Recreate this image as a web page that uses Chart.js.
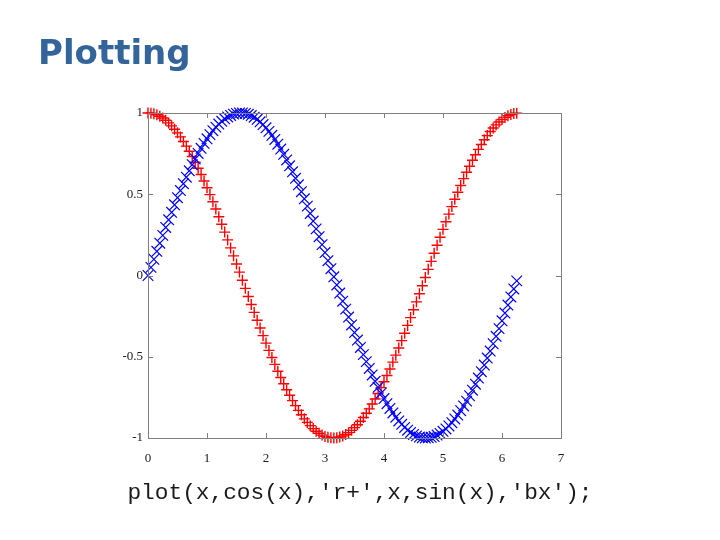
<!DOCTYPE html>
<html>
<head>
<meta charset="utf-8">
<script src="https://cdn.jsdelivr.net/npm/chart.js@4"></script>
<style>
  html, body { margin: 0; padding: 0; background: #fff; }
  #wrap { position: relative; width: 720px; height: 540px; overflow: hidden; }
  #title {
    position: absolute; left: 38px; top: 32px; margin: 0;
    font: bold 34px "DejaVu Sans", sans-serif; color: #34659a;
  }
  #caption {
    position: absolute; left: 0; width: 720px; top: 480px; margin: 0;
    text-align: center; font: 22.8px "Liberation Mono", monospace; color: #1a1a1a;
  }
  canvas { position: absolute; left: 0; top: 0; }
</style>
</head>
<body>
<div id="wrap">
  <canvas id="plot" width="720" height="540"></canvas>
  <h1 id="title">Plotting</h1>
  <p id="caption">plot(x,cos(x),'r+',x,sin(x),'bx');</p>
</div>
<script>
// x = 0:0.05:6.25
const xVals = [
  0.00, 0.05, 0.10, 0.15, 0.20, 0.25, 0.30, 0.35, 0.40, 0.45,
  0.50, 0.55, 0.60, 0.65, 0.70, 0.75, 0.80, 0.85, 0.90, 0.95,
  1.00, 1.05, 1.10, 1.15, 1.20, 1.25, 1.30, 1.35, 1.40, 1.45,
  1.50, 1.55, 1.60, 1.65, 1.70, 1.75, 1.80, 1.85, 1.90, 1.95,
  2.00, 2.05, 2.10, 2.15, 2.20, 2.25, 2.30, 2.35, 2.40, 2.45,
  2.50, 2.55, 2.60, 2.65, 2.70, 2.75, 2.80, 2.85, 2.90, 2.95,
  3.00, 3.05, 3.10, 3.15, 3.20, 3.25, 3.30, 3.35, 3.40, 3.45,
  3.50, 3.55, 3.60, 3.65, 3.70, 3.75, 3.80, 3.85, 3.90, 3.95,
  4.00, 4.05, 4.10, 4.15, 4.20, 4.25, 4.30, 4.35, 4.40, 4.45,
  4.50, 4.55, 4.60, 4.65, 4.70, 4.75, 4.80, 4.85, 4.90, 4.95,
  5.00, 5.05, 5.10, 5.15, 5.20, 5.25, 5.30, 5.35, 5.40, 5.45,
  5.50, 5.55, 5.60, 5.65, 5.70, 5.75, 5.80, 5.85, 5.90, 5.95,
  6.00, 6.05, 6.10, 6.15, 6.20, 6.25
];

// red '+' markers
const cosVals = [
  1.000, 0.999, 0.995, 0.989, 0.980, 0.969, 0.955, 0.939, 0.921, 0.900,
  0.878, 0.853, 0.825, 0.796, 0.765, 0.732, 0.697, 0.660, 0.622, 0.582,
  0.540, 0.498, 0.454, 0.409, 0.362, 0.315, 0.267, 0.219, 0.170, 0.121,
  0.071, 0.021, -0.029, -0.079, -0.129, -0.178, -0.227, -0.275, -0.323, -0.370,
  -0.416, -0.461, -0.505, -0.547, -0.589, -0.628, -0.666, -0.703, -0.737, -0.770,
  -0.801, -0.830, -0.857, -0.882, -0.904, -0.924, -0.942, -0.958, -0.971, -0.982,
  -0.990, -0.996, -0.999, -1.000, -0.998, -0.994, -0.987, -0.978, -0.967, -0.953,
  -0.936, -0.918, -0.897, -0.874, -0.848, -0.821, -0.791, -0.760, -0.726, -0.690,
  -0.654, -0.615, -0.575, -0.533, -0.490, -0.446, -0.401, -0.355, -0.307, -0.259,
  -0.211, -0.162, -0.112, -0.063, -0.012, 0.038, 0.087, 0.137, 0.186, 0.235,
  0.284, 0.331, 0.378, 0.424, 0.469, 0.512, 0.554, 0.596, 0.635, 0.672,
  0.709, 0.743, 0.776, 0.806, 0.835, 0.861, 0.886, 0.908, 0.927, 0.945,
  0.960, 0.973, 0.983, 0.991, 0.997, 0.999
];

// blue 'x' markers
const sinVals = [
  0.000, 0.050, 0.100, 0.149, 0.199, 0.247, 0.296, 0.343, 0.389, 0.435,
  0.479, 0.523, 0.565, 0.605, 0.644, 0.682, 0.717, 0.751, 0.783, 0.813,
  0.841, 0.867, 0.891, 0.913, 0.932, 0.949, 0.964, 0.976, 0.985, 0.993,
  0.997, 1.000, 1.000, 0.997, 0.992, 0.984, 0.974, 0.961, 0.946, 0.929,
  0.909, 0.887, 0.863, 0.837, 0.808, 0.778, 0.746, 0.711, 0.675, 0.638,
  0.598, 0.558, 0.516, 0.472, 0.427, 0.382, 0.335, 0.287, 0.239, 0.190,
  0.141, 0.091, 0.042, -0.008, -0.058, -0.108, -0.158, -0.207, -0.256, -0.304,
  -0.351, -0.397, -0.443, -0.487, -0.530, -0.572, -0.612, -0.651, -0.688, -0.724,
  -0.757, -0.789, -0.818, -0.846, -0.872, -0.895, -0.916, -0.935, -0.952, -0.966,
  -0.978, -0.987, -0.994, -0.998, -1.000, -0.999, -0.996, -0.991, -0.982, -0.972,
  -0.959, -0.944, -0.926, -0.906, -0.883, -0.859, -0.832, -0.803, -0.773, -0.740,
  -0.706, -0.669, -0.631, -0.592, -0.551, -0.508, -0.465, -0.420, -0.374, -0.327,
  -0.279, -0.231, -0.182, -0.132, -0.083, -0.033
];

const xTicks = [0, 1, 2, 3, 4, 5, 6, 7];
const yTicks = [-1, -0.5, 0, 0.5, 1];

const cosPts = xVals.map((x, i) => ({ x: x, y: cosVals[i] }));
const sinPts = xVals.map((x, i) => ({ x: x, y: sinVals[i] }));

// axes box + inward tick marks, matlab style
const boxPlugin = {
  id: 'box',
  afterDatasetsDraw(chart) {
    const { ctx, chartArea: a, scales } = chart;
    ctx.save();
    ctx.strokeStyle = '#808080';
    ctx.lineWidth = 1;
    ctx.strokeRect(Math.round(a.left) + 0.5, Math.round(a.top) + 0.5,
                   Math.round(a.right - a.left), Math.round(a.bottom - a.top));
    const len = 5;
    ctx.beginPath();
    xTicks.forEach(v => {
      const px = Math.round(scales.x.getPixelForValue(v)) + 0.5;
      ctx.moveTo(px, a.bottom); ctx.lineTo(px, a.bottom - len);
      ctx.moveTo(px, a.top); ctx.lineTo(px, a.top + len);
    });
    yTicks.forEach(v => {
      const py = Math.round(scales.y.getPixelForValue(v)) + 0.5;
      ctx.moveTo(a.left, py); ctx.lineTo(a.left + len, py);
      ctx.moveTo(a.right, py); ctx.lineTo(a.right - len, py);
    });
    ctx.stroke();
    ctx.restore();
  }
};

const RED = 'rgb(255,0,0)';
const BLUE = 'rgb(0,0,255)';

new Chart(document.getElementById('plot'), {
  type: 'scatter',
  data: {
    datasets: [
      {
        label: 'cos(x)',
        data: cosPts,
        borderColor: RED,
        backgroundColor: RED,
        pointStyle: 'cross',
        pointRadius: 5.5,
        pointBorderColor: RED,
        pointBackgroundColor: RED,
        pointHoverBorderColor: RED,
        pointBorderWidth: 1.4,
        showLine: false,
        clip: false,
        order: 1
      },
      {
        label: 'sin(x)',
        data: sinPts,
        borderColor: BLUE,
        backgroundColor: BLUE,
        pointStyle: 'crossRot',
        pointRadius: 7.5,
        pointBorderColor: BLUE,
        pointBackgroundColor: BLUE,
        pointHoverBorderColor: BLUE,
        pointBorderWidth: 1.2,
        showLine: false,
        clip: false,
        order: 0
      }
    ]
  },
  options: {
    responsive: false,
    animation: false,
    events: [],
    layout: { padding: { left: 108, right: 159, top: 113, bottom: 62 } },
    plugins: { legend: { display: false }, tooltip: { enabled: false } },
    scales: {
      x: {
        type: 'linear',
        min: 0, max: 7,
        afterFit: s => { s.height = 40; },
        afterBuildTicks: s => { s.ticks = xTicks.map(v => ({ value: v })); },
        grid: { display: false, drawTicks: false },
        border: { display: false },
        ticks: {
          padding: 13,
          color: '#1a1a1a',
          font: { family: '"Liberation Serif", serif', size: 13 },
          maxRotation: 0
        }
      },
      y: {
        type: 'linear',
        min: -1, max: 1,
        afterFit: s => { s.width = 40; },
        afterBuildTicks: s => { s.ticks = yTicks.map(v => ({ value: v })); },
        grid: { display: false, drawTicks: false },
        border: { display: false },
        ticks: {
          padding: 5,
          color: '#1a1a1a',
          font: { family: '"Liberation Serif", serif', size: 13 },
          callback: v => String(v)
        }
      }
    }
  },
  plugins: [boxPlugin]
});
</script>
</body>
</html>
